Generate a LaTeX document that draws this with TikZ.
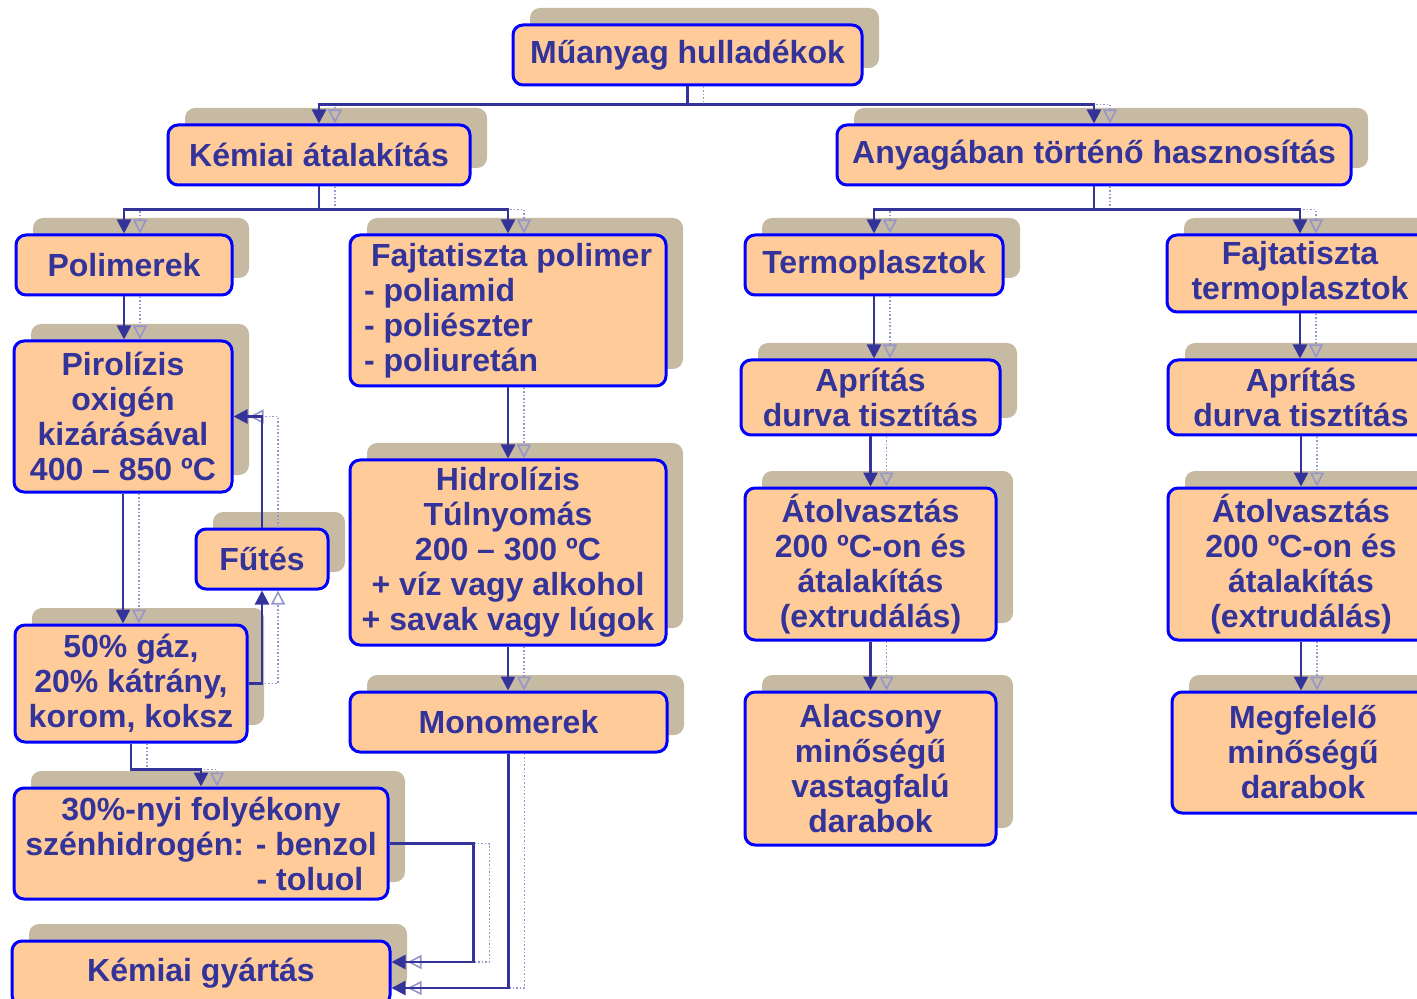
\documentclass[tikz,border=0pt]{standalone}
\usepackage{fontspec}
\setmainfont{Liberation Sans}
\usetikzlibrary{arrows.meta, shadows}

\definecolor{boxfill}{RGB}{255,204,153}
\definecolor{boxdraw}{RGB}{0,0,255}
\definecolor{ink}{RGB}{51,51,153}
\definecolor{shadetan}{RGB}{198,186,162}
\definecolor{shadeline}{RGB}{150,150,205}

\begin{document}
\begin{tikzpicture}[
  x=0.5pt, y=-0.5pt,
  box/.style={rectangle, draw=boxdraw, line width=1.5pt, rounded corners=5pt,
    fill=boxfill, text=ink, align=center, inner sep=2pt,
    font=\fontsize{16}{17.5}\selectfont\bfseries,
    general shadow={shadow xshift=8.5pt, shadow yshift=8.5pt, fill=shadetan}},
  conn/.style={draw=ink, line width=1.2pt, -{Triangle[length=7pt, width=7pt]},
    preaction={draw=shadeline, densely dotted, line width=0.8pt,
      -{Triangle[open, length=7pt, width=7pt]},
      transform canvas={xshift=8pt}}},
]
\useasboundingbox (0,0) rectangle (1417,999);

% Top
\node[box, minimum width=174.5pt, minimum height=30pt] (top) at (687.5,55) {Műanyag hulladékok};
\node[box, minimum width=151pt, minimum height=30pt] (kem) at (319,155) {Kémiai átalakítás};
\node[box, minimum width=257pt, minimum height=30pt] (anyag) at (1094,155) {Anyagában történő hasznosítás};

% Chemical side
\node[box, minimum width=108pt, minimum height=30pt] (polim) at (124,265) {Polimerek};
\node[box, minimum width=109pt, minimum height=75.5pt] (piro) at (123,416.5)
  {Pirolízis\\oxigén\\kizárásával\\400 – 850 ºC};
\node[box, minimum width=66pt, minimum height=30pt] (futes) at (262,559) {Fűtés};
\node[box, minimum width=116pt, minimum height=58.5pt] (gaz) at (131,683.5)
  {50\% gáz,\\20\% kátrány,\\korom, koksz};
\node[box, minimum width=187pt, minimum height=55.5pt] (foly) at (201,843.5)
  {30\%-nyi folyékony\\szénhidrogén: - benzol\\\hspace*{109pt}- toluol};
\node[box, minimum width=189pt, minimum height=32pt] (gyart) at (201,973) {Kémiai gyártás};

\node[box, minimum width=158pt, minimum height=75.5pt, align=left] (fajpol) at (508,310.5)
  {\hspace*{3.5pt}Fajtatiszta polimer\\- poliamid\\- poliészter\\- poliuretán};
\node[box, minimum width=158pt, minimum height=92.5pt] (hidro) at (508,552.5)
  {Hidrolízis\\Túlnyomás\\200 – 300 ºC\\+ víz vagy alkohol\\+ savak vagy lúgok};
\node[box, minimum width=158.5pt, minimum height=30pt] (mono) at (508.5,722) {Monomerek};

% Material side
\node[box, minimum width=129pt, minimum height=30pt] (termo) at (874,265) {Termoplasztok};
\node[box, minimum width=129.5pt, minimum height=37.5pt] (apr1) at (870.5,397.5)
  {Aprítás\\durva tisztítás};
\node[box, minimum width=125.5pt, minimum height=76pt] (atol1) at (870.5,564)
  {Átolvasztás\\200 ºC-on és\\átalakítás\\(extrudálás)};
\node[box, minimum width=125.5pt, minimum height=76.5pt] (alac) at (870.5,768.5)
  {Alacsony\\minőségű\\vastagfalú\\darabok};

\node[box, minimum width=133pt, minimum height=38.5pt] (fajtermo) at (1300,273.5)
  {Fajtatiszta\\termoplasztok};
\node[box, minimum width=133pt, minimum height=37.5pt] (apr2) at (1301,397.5)
  {Aprítás\\durva tisztítás};
\node[box, minimum width=133pt, minimum height=76pt] (atol2) at (1301,564)
  {Átolvasztás\\200 ºC-on és\\átalakítás\\(extrudálás)};
\node[box, minimum width=131pt, minimum height=60.5pt] (megf) at (1303,752.5)
  {Megfelelő\\minőségű\\darabok};

% Tree
\draw[conn] (top.south) -- ++(0,18) -| (kem.north);
\draw[conn] (top.south) -- ++(0,18) -| (anyag.north);
\draw[conn] (kem.south) -- ++(0,23) -| (polim.north);
\draw[conn] (kem.south) -- ++(0,23) -| (fajpol.north);
\draw[conn] (anyag.south) -- ++(0,23) -| (termo.north);
\draw[conn] (anyag.south) -- ++(0,23) -| (fajtermo.north);

% Pyrolysis
\draw[conn] (polim.south) -- (polim.south |- piro.north);
\draw[conn] (piro.south) -- (piro.south |- gaz.north);
\draw[conn] (gaz.east) -| (futes.south);
\draw[conn] (futes.north) |- (piro.east);
\draw[conn] (gaz.south) -- ++(0,26) -| (foly.north);
\draw[conn] (foly.east) -- ++(84,0) |- ([yshift=5.5pt]gyart.east);

% Hydrolysis
\draw[conn] (fajpol.south) -- (fajpol.south |- hidro.north);
\draw[conn] (hidro.south) -- (hidro.south |- mono.north);
\draw[conn] (mono.south) |- ([yshift=-7.5pt]gyart.east);

% Recycling chains
\draw[conn] (termo.south) -- (termo.south |- apr1.north);
\draw[conn] (apr1.south) -- (apr1.south |- atol1.north);
\draw[conn] (atol1.south) -- (atol1.south |- alac.north);
\draw[conn] (fajtermo.south) -- (fajtermo.south |- apr2.north);
\draw[conn] (apr2.south) -- (apr2.south |- atol2.north);
\draw[conn] (atol2.south) -- (atol2.south |- megf.north);

\end{tikzpicture}
\end{document}
